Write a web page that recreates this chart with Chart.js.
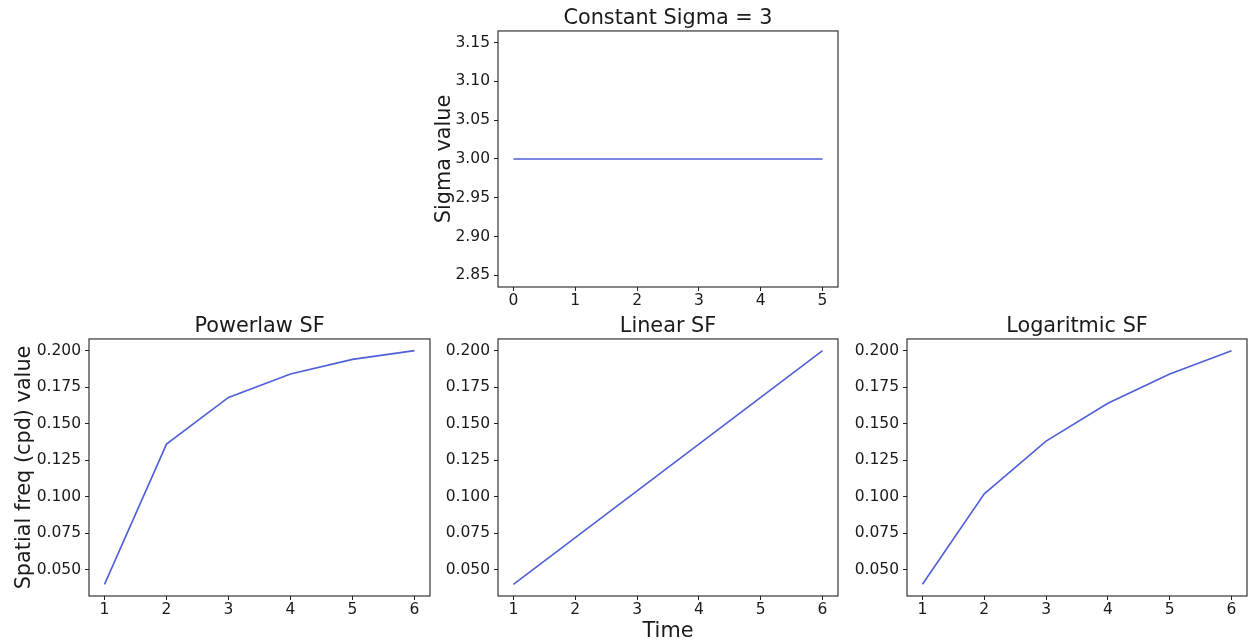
<!DOCTYPE html>
<html>
<head>
<meta charset="utf-8">
<script src="https://cdn.jsdelivr.net/npm/chart.js@4/dist/chart.umd.min.js"></script>
<style>
  html, body { margin: 0; padding: 0; background: #ffffff; }
  body { width: 1249px; height: 644px; position: relative; overflow: hidden; }
  .box { position: absolute; }
</style>
</head>
<body>
<div class="box" id="b0" style="left:413px;top:0px;width:435px;height:317px;"><canvas id="c0"></canvas></div>
<div class="box" id="b1" style="left:0px;top:308px;width:435px;height:336px;"><canvas id="c1"></canvas></div>
<div class="box" id="b2" style="left:413px;top:308px;width:430px;height:336px;"><canvas id="c2"></canvas></div>
<div class="box" id="b3" style="left:822px;top:308px;width:427px;height:336px;"><canvas id="c3"></canvas></div>
<script>
// ---- data ----
const sigmaTime = [0, 1, 2, 3, 4, 5];
const sigmaValues = [3, 3, 3, 3, 3, 3];
const sfTime = [1, 2, 3, 4, 5, 6];
const powerlawSF = [0.040, 0.136, 0.168, 0.184, 0.194, 0.200];
const linearSF = [0.040, 0.072, 0.104, 0.136, 0.168, 0.200];
const logaritmicSF = [0.040, 0.102, 0.138, 0.164, 0.184, 0.200];
const sigmaYTicks = [2.85, 2.90, 2.95, 3.00, 3.05, 3.10, 3.15];
const sigmaXTicks = [0, 1, 2, 3, 4, 5];
const sfYTicks = [0.050, 0.075, 0.100, 0.125, 0.150, 0.175, 0.200];
const sfXTicks = [1, 2, 3, 4, 5, 6];

// ---- styling ----
const FONT = 'DejaVu Sans';
const TEXT = '#1a1a1a';
const LINE = '#4f5fd8';
const TICK_SIZE = 15.5;
const BIG_SIZE = 20.8;
Chart.defaults.font.family = FONT;
Chart.defaults.color = TEXT;

const framePlugin = {
  id: 'frame',
  afterDraw(chart) {
    const { ctx, chartArea: { left, top, right, bottom } } = chart;
    ctx.save();
    ctx.strokeStyle = '#222222';
    ctx.lineWidth = 1.1;
    ctx.strokeRect(left, top, right - left, bottom - top);
    ctx.restore();
  }
};

function makeChart(id, cfg) {
  const pts = cfg.x.map((x, i) => ({ x: x, y: cfg.y[i] }));
  const yScale = {
    type: 'linear',
    min: cfg.yMin, max: cfg.yMax,
    afterBuildTicks: s => { s.ticks = cfg.yTicks.map(v => ({ value: v })); },
    afterFit: s => { s.width = cfg.yWidth; },
    border: { display: false },
    grid: { display: true, drawOnChartArea: false, drawTicks: true, tickLength: 4, color: '#222222', lineWidth: 1 },
    ticks: { font: { size: TICK_SIZE }, color: TEXT, padding: 4,
      callback: v => Number(v).toFixed(cfg.yDec) },
    title: cfg.yTitle ? { display: true, text: cfg.yTitle, font: { size: BIG_SIZE }, color: TEXT,
      padding: { top: cfg.yTitlePad, bottom: 0 } } : { display: false }
  };
  const xScale = {
    type: 'linear',
    min: cfg.xMin, max: cfg.xMax,
    afterBuildTicks: s => { s.ticks = cfg.xTicks.map(v => ({ value: v })); },
    afterFit: s => { s.height = cfg.xHeight; },
    border: { display: false },
    grid: { display: true, drawOnChartArea: false, drawTicks: true, tickLength: 4, color: '#222222', lineWidth: 1 },
    ticks: { font: { size: TICK_SIZE }, color: TEXT, padding: 1, maxRotation: 0,
      callback: v => String(v) },
    title: cfg.xTitle ? { display: true, text: cfg.xTitle, font: { size: BIG_SIZE }, color: TEXT,
      padding: { top: 0, bottom: 0 } } : { display: false }
  };
  return new Chart(document.getElementById(id), {
    type: 'line',
    data: { datasets: [{ data: pts, borderColor: LINE, borderWidth: 1.6, pointRadius: 0, fill: false, tension: 0 }] },
    options: {
      responsive: true,
      maintainAspectRatio: false,
      animation: false,
      events: [],
      layout: { padding: { left: 0, top: 0, bottom: 0, right: cfg.padRight } },
      plugins: {
        legend: { display: false },
        tooltip: { enabled: false },
        title: { display: true, text: cfg.title, fullSize: false, color: TEXT,
          font: { size: BIG_SIZE, weight: 'normal' }, padding: { top: 5.8, bottom: 0.2 } }
      },
      scales: { x: xScale, y: yScale }
    },
    plugins: [framePlugin]
  });
}

makeChart('c0', {
  title: 'Constant Sigma = 3', x: sigmaTime, y: sigmaValues,
  xMin: -0.25, xMax: 5.25, yMin: 2.835, yMax: 3.165,
  xTicks: sigmaXTicks, yTicks: sigmaYTicks, yDec: 2,
  yWidth: 85, xHeight: 30, padRight: 10,
  yTitle: 'Sigma value', yTitlePad: 19
});
makeChart('c1', {
  title: 'Powerlaw SF', x: sfTime, y: powerlawSF,
  xMin: 0.75, xMax: 6.25, yMin: 0.032, yMax: 0.208,
  xTicks: sfXTicks, yTicks: sfYTicks, yDec: 3,
  yWidth: 89, xHeight: 48, padRight: 5,
  yTitle: 'Spatial freq (cpd) value', yTitlePad: 12
});
makeChart('c2', {
  title: 'Linear SF', x: sfTime, y: linearSF,
  xMin: 0.75, xMax: 6.25, yMin: 0.032, yMax: 0.208,
  xTicks: sfXTicks, yTicks: sfYTicks, yDec: 3,
  yWidth: 85, xHeight: 48, padRight: 5,
  xTitle: 'Time'
});
makeChart('c3', {
  title: 'Logaritmic SF', x: sfTime, y: logaritmicSF,
  xMin: 0.75, xMax: 6.25, yMin: 0.032, yMax: 0.208,
  xTicks: sfXTicks, yTicks: sfYTicks, yDec: 3,
  yWidth: 85, xHeight: 48, padRight: 2
});
</script>
</body>
</html>
